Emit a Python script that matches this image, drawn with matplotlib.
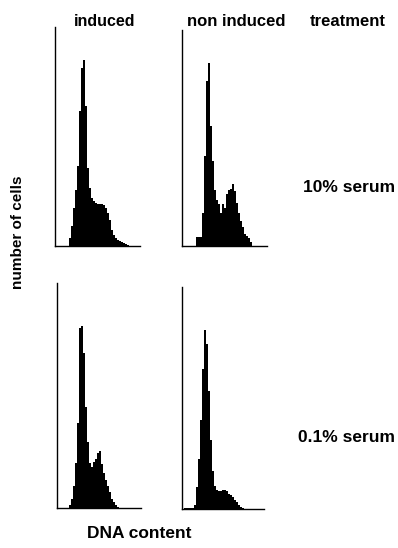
import numpy as np
import matplotlib.pyplot as plt

plt.rcParams['font.family'] = ['Liberation Sans', 'DejaVu Sans']

# DNA content channel (bin start), 2 channels per bin
ch_ind_10 = list(range(12, 76, 2))
h_ind_10 = [0, 8, 20, 38, 56, 80, 135, 178, 186, 140, 78, 58, 48, 45, 43, 42,
            42, 42, 41, 38, 33, 26, 16, 11, 8, 6, 5, 4, 3, 2, 1, 0]

ch_non_10 = list(range(12, 72, 2))
h_non_10 = [0, 9, 9, 9, 33, 90, 165, 183, 120, 85, 56, 46, 42, 33, 42, 38,
            52, 56, 57, 62, 55, 43, 33, 25, 19, 12, 10, 8, 4, 0]

ch_ind_01 = list(range(10, 64, 2))
h_ind_01 = [0, 3, 9, 22, 45, 85, 180, 182, 155, 101, 66, 45, 41, 46, 49, 55,
            57, 44, 35, 28, 22, 16, 9, 6, 3, 1, 0]

ch_non_01 = list(range(2, 64, 2))
h_non_01 = [1, 1, 1, 1, 1, 4, 22, 50, 89, 140, 179, 165, 118, 69, 38, 23,
            19, 18, 18, 19, 19, 18, 15, 14, 12, 9, 7, 4, 2, 1, 0]

W, H = 398, 548
fig = plt.figure(figsize=(W / 100, H / 100), dpi=100)

def panel(l, t, r, b, ch, h):
    ax = fig.add_axes([l / W, 1 - b / H, (r - l) / W, (b - t) / H])
    ax.bar(ch, h, width=2, align='edge', color='black', linewidth=0)
    ax.set_xlim(0, r - l)
    ax.set_ylim(0, b - t)
    for s in ['top', 'right']:
        ax.spines[s].set_visible(False)
    for s in ['left', 'bottom']:
        ax.spines[s].set_linewidth(1.0)
    ax.set_xticks([])
    ax.set_yticks([])
    return ax

panel(55, 27, 140, 246, ch_ind_10, h_ind_10)
panel(182, 30, 267, 246, ch_non_10, h_non_10)
panel(57, 283, 141, 508, ch_ind_01, h_ind_01)
panel(182, 287, 264, 509, ch_non_01, h_non_01)

def label(x, y, s, size=12, **kw):
    fig.text(x / W, 1 - y / H, s, fontsize=size, fontweight='bold',
             ha='center', va='center', **kw)

label(105, 21, 'induced', size=11.5)
label(236, 21, 'non induced')
label(348, 21, 'treatment')
label(349, 188, '10% serum', size=12.5)
label(346, 438, '0.1% serum', size=12.5)
label(139, 533, 'DNA content', size=12.5)
label(18, 232, 'number of cells', size=11, rotation=90)

fig.savefig('out.png', dpi=100)
